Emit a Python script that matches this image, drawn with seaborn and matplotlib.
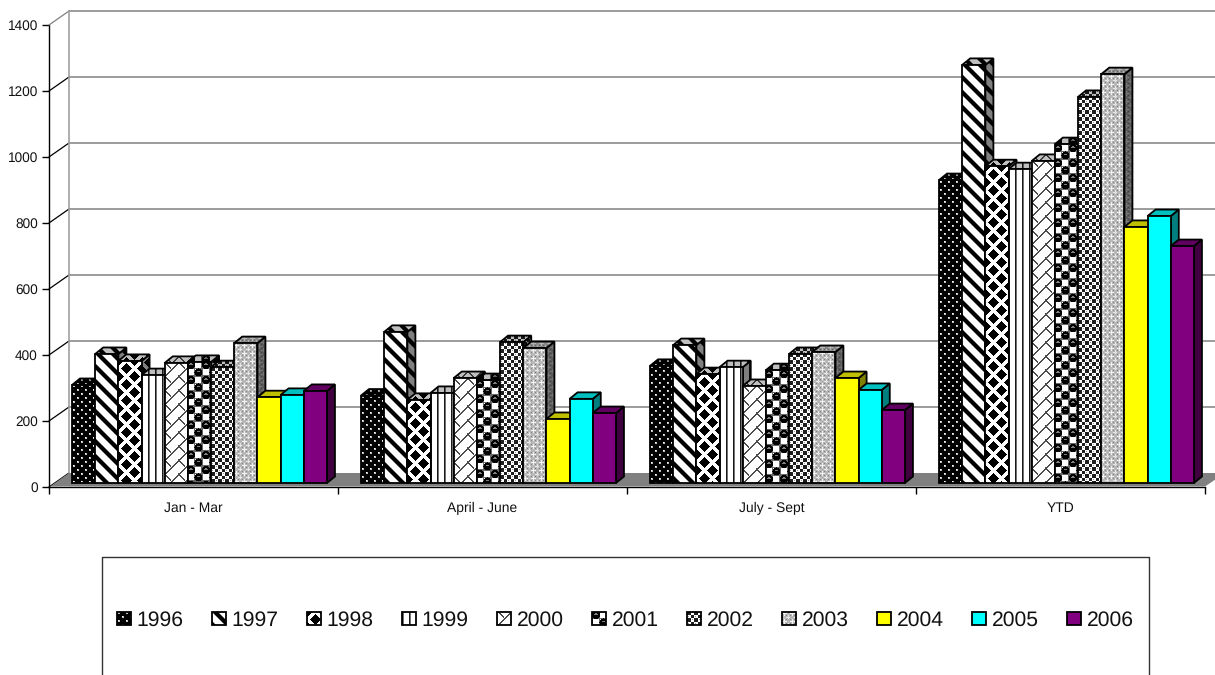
import numpy as np
import pandas as pd
import matplotlib
matplotlib.use("Agg")
import matplotlib.pyplot as plt
from matplotlib.patches import Polygon
from matplotlib.transforms import Affine2D
import seaborn as sns

periods = ["Jan - Mar", "April - June", "July - Sept", "YTD"]
years = ["1996", "1997", "1998", "1999", "2000", "2001", "2002", "2003", "2004", "2005", "2006"]

jan_mar = [297, 391, 370, 327, 364, 367, 351, 424, 260, 267, 279]
april_june = [265, 458, 252, 273, 318, 312, 427, 409, 194, 255, 212]
july_sept = [355, 418, 330, 351, 294, 342, 391, 397, 318, 282, 221]
ytd = [918, 1267, 960, 951, 976, 1027, 1170, 1239, 776, 809, 718]

rows = []
for name, vals in zip(periods, [jan_mar, april_june, july_sept, ytd]):
    for y, v in zip(years, vals):
        rows.append({"period": name, "year": y, "value": v})
df = pd.DataFrame(rows)

W, H = 1215, 675
GRAY = "#808080"


# fill patterns, 1 = white 0 = black
def tile_1996():
    t = np.zeros((8, 8))
    t[1:3, 1:3] = 0.75
    t[1, 1] = 1
    t[5:7, 5:7] = 0.75
    t[5, 5] = 1
    return t


def tile_1997():
    yy, xx = np.mgrid[0:15, 0:15]
    t = np.ones((15, 15))
    d = (xx - yy) % 15
    t[d < 5] = 0
    t[d == 5] = 0.5
    t[d == 14] = 0.5
    return t


def tile_1998():
    yy, xx = np.mgrid[0:16, 0:16]
    t = np.ones((16, 16))
    for cx, cy in [(0, 0), (16, 0), (0, 16), (16, 16), (8, 8)]:
        t[np.abs(xx - cx) + np.abs(yy - cy) <= 5] = 0
    return t


def tile_1999():
    t = np.ones((7, 7))
    t[:, 0] = 0.1
    t[:, 1] = 0.45
    return t


def tile_2000():
    yy, xx = np.mgrid[0:14, 0:14]
    t = np.ones((14, 14))
    t[(xx + yy) % 14 < 2] = 0.3
    t[((xx - yy) % 14 < 2) & (xx < 7)] = 0.3
    return t


def tile_2001():
    yy, xx = np.mgrid[0:15, 0:15]
    t = np.ones((15, 15))
    t[(xx % 7 == 0) | (yy % 7 == 0)] = 0.4
    for cx, cy in [(3.5, 3.5), (11, 11)]:
        r2 = (xx - cx) ** 2 + (yy - cy) ** 2
        t[r2 <= 16] = 0
        t[(r2 <= 3) & (yy < cy)] = 0.5
    return t


def tile_2002():
    t = np.ones((7, 7))
    t[0:4, 0:4] = 0.12
    t[4:7, 4:7] = 0.12
    t[1, 5] = 0.6
    t[5, 1] = 0.6
    return t


def tile_2003():
    t = np.full((8, 8), 0.72)
    t[2, 0:5] = 0.95
    t[0:5, 2] = 0.95
    t[6, 4:8] = 0.9
    t[4:8, 6] = 0.9
    t[0, 0] = t[0, 4] = t[4, 0] = t[4, 4] = 0.5
    return t


def solid(c):
    t = np.ones((2, 2, 3))
    t[:, :] = matplotlib.colors.to_rgb(c)
    return t


fills = [tile_1996(), tile_1997(), tile_1998(), tile_1999(), tile_2000(), tile_2001(),
         tile_2002(), tile_2003(), solid("#FFFF00"), solid("#00FFFF"), solid("#800080")]
fills = [np.dstack([t, t, t]) if t.ndim == 2 else t for t in fills]

sns.set_style("white")
plt.rcParams["font.family"] = ["Liberation Sans", "DejaVu Sans"]
plt.rcParams["text.hinting"] = "no_hinting"

fig = plt.figure(figsize=(W / 100, H / 100), dpi=100)
ax = fig.add_axes([49 / W, (H - 487) / H, 1156 / W, 462 / H])
sns.barplot(data=df, x="period", y="value", hue="year", order=periods, hue_order=years,
            width=0.882, gap=0, dodge=True, legend=False, color="white", ax=ax, zorder=1)
ax.set_xlim(-0.5, 3.5)
ax.set_ylim(0, 1400)
ax.set_xlabel("")
ax.set_ylabel("")
ax.set_yticks(np.arange(0, 1401, 200))
ax.set_xticks(np.arange(-0.5, 4, 1))
ax.set_xticklabels([])
ax.set_xticks(np.arange(4), labels=periods, minor=True)
ax.tick_params(axis="y", length=5, width=1, color="black", labelsize=9.8, pad=3, left=True, labelcolor="#111111")
ax.tick_params(axis="x", which="major", length=5, width=1, color="black", bottom=True)
ax.tick_params(axis="x", which="minor", length=0, labelsize=10, pad=10.5, labelcolor="#111111")
for s in ["top", "right"]:
    ax.spines[s].set_visible(False)
for s in ["left", "bottom"]:
    ax.spines[s].set_color("black")
    ax.spines[s].set_linewidth(1)

# bars sit a little way back on the floor
for b in ax.patches:
    b.set_transform(ax.transData + Affine2D().translate(6, 4))

# overlay in image pixels for the fake 3d stuff
px = fig.add_axes([0, 0, 1, 1], zorder=5)
px.set_xlim(0, W)
px.set_ylim(H, 0)
px.set_autoscale_on(False)
px.axis("off")
px.patch.set_alpha(0)

# wall and floor
for k in range(8):
    yb = 11 + 66 * k
    if k < 7:
        px.plot([69, W], [yb, yb], color=GRAY, lw=1.1, zorder=1)
    px.plot([49, 69], [yb + 14, yb], color=GRAY if k == 0 else "black", lw=0.9, zorder=1)
px.plot([69, 69], [11, 473], color="#a0a0a0", lw=1.2, zorder=1)
px.add_patch(Polygon([(50, 486.5), (69, 473), (1225, 473), (1205, 486.5)], fc=GRAY, ec="none", zorder=1))


def paint(verts, tile, shade, z):
    xs = [v[0] for v in verts]
    ys = [v[1] for v in verts]
    x0, x1 = int(np.floor(min(xs))), int(np.ceil(max(xs)))
    y0, y1 = int(np.floor(min(ys))), int(np.ceil(max(ys)))
    h, w = tile.shape[:2]
    img = np.tile(tile, ((y1 - y0) // h + 1, (x1 - x0) // w + 1, 1))[: y1 - y0, : x1 - x0] * shade
    im = px.imshow(img, extent=(x0, x1, y1, y0), interpolation="nearest", aspect="auto", zorder=z)
    im.set_clip_path(Polygon(verts, transform=px.transData))
    px.add_patch(Polygon(verts, fc="none", ec="black", lw=1.3, joinstyle="miter", zorder=z + 0.1))


DX, DY = 8, 6.5
for i, cont in enumerate(ax.containers):
    for b in cont:
        bb = b.get_window_extent()
        l, r = bb.x0, bb.x1
        t, bot = H - bb.y1, H - bb.y0
        z = 10 + i
        paint([(r, t), (r + DX, t - DY), (r + DX, bot - DY), (r, bot)], fills[i], 0.5, z)
        paint([(l, t), (l + DX, t - DY), (r + DX, t - DY), (r, t)], fills[i], 0.75, z + 0.2)
        paint([(l, t), (r, t), (r, bot), (l, bot)], fills[i], 1.0, z + 0.4)

# legend box runs off the bottom of the image
px.plot([102, 102, 1149, 1149], [H + 2, 556.5, 556.5, H + 2], color="#333333", lw=1, zorder=30)
for i, y in enumerate(years):
    x = 117 + 95 * i
    paint([(x, 611.5), (x + 14, 611.5), (x + 14, 625), (x, 625)], fills[i], 1.0, 40)
    px.text(x + 19.5, 618.5, y, fontsize=15.2, va="center_baseline", ha="left", color="#111111", zorder=41)

fig.savefig("out.png", dpi=100)
